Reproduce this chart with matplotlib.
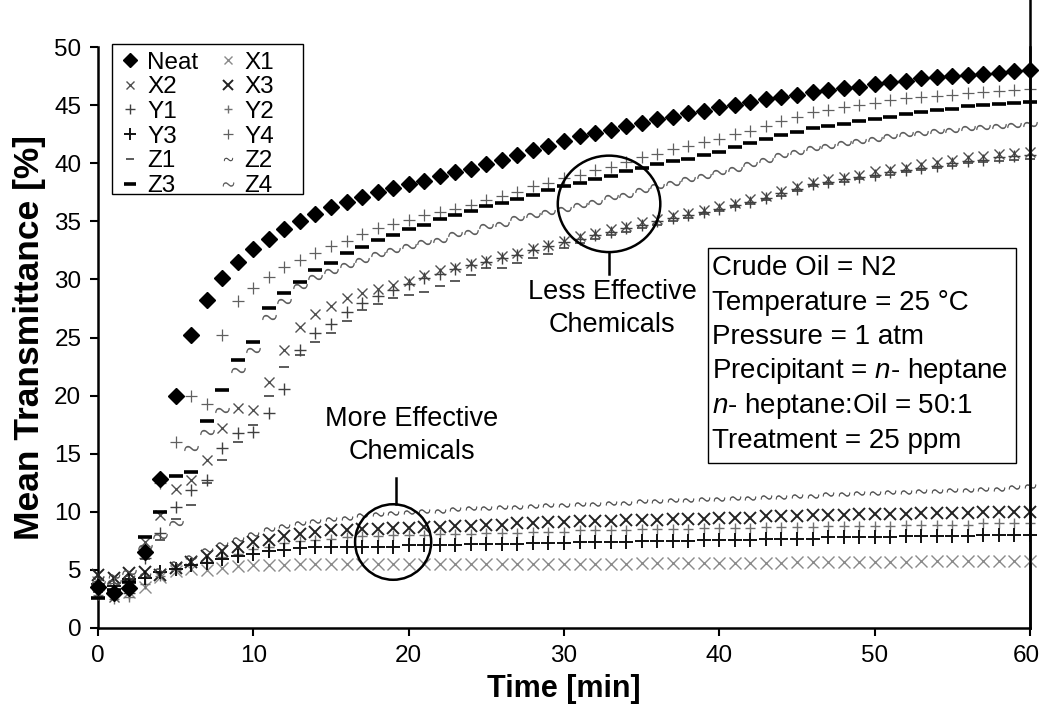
import matplotlib
matplotlib.use("Agg")
import matplotlib.pyplot as plt
from matplotlib.patches import Ellipse, Rectangle
from matplotlib.lines import Line2D
from matplotlib.transforms import ScaledTranslation

plt.rcParams['font.family'] = ['Liberation Sans', 'DejaVu Sans']
plt.rcParams['mathtext.fontset'] = 'custom'
plt.rcParams['mathtext.rm'] = 'Liberation Sans'
plt.rcParams['mathtext.it'] = 'Liberation Sans:italic'

# ---- data: mean transmittance [%] sampled every minute, 0..60 min ----
time_min = list(range(0, 61))

neat = [3.5, 3.0, 3.4, 6.5, 12.8, 20.0, 25.2, 28.2, 30.1, 31.5,
        32.6, 33.5, 34.3, 35.0, 35.6, 36.2, 36.7, 37.1, 37.5, 37.9,
        38.2, 38.5, 38.9, 39.2, 39.5, 39.9, 40.3, 40.7, 41.1, 41.5,
        41.9, 42.3, 42.6, 42.9, 43.2, 43.5, 43.8, 44.0, 44.3, 44.5,
        44.8, 45.0, 45.3, 45.5, 45.7, 45.9, 46.1, 46.3, 46.5, 46.6,
        46.8, 47.0, 47.1, 47.3, 47.4, 47.5, 47.6, 47.7, 47.8, 47.9, 48.0]

x1 = [4.0, 3.4, 3.1, 3.5, 4.4, 4.9, 5.1, 5.0, 5.2, 5.3,
      5.4, 5.4, 5.4, 5.5, 5.5, 5.5, 5.5, 5.5, 5.5, 5.5,
      5.5, 5.5, 5.5, 5.5, 5.5, 5.5, 5.5, 5.5, 5.5, 5.5,
      5.5, 5.5, 5.5, 5.5, 5.5, 5.6, 5.6, 5.6, 5.6, 5.6,
      5.6, 5.6, 5.6, 5.6, 5.6, 5.7, 5.7, 5.7, 5.7, 5.7,
      5.7, 5.7, 5.7, 5.8, 5.8, 5.8, 5.8, 5.8, 5.8, 5.8, 5.8]

x2 = [3.0, 2.7, 3.8, 7.4, 9.7, 12.0, 12.7, 14.5, 17.2, 18.9,
      18.8, 21.2, 23.9, 25.9, 27.0, 27.7, 28.4, 28.8, 29.2, 29.5,
      29.9, 30.4, 30.8, 31.1, 31.4, 31.7, 32.0, 32.3, 32.7, 33.0,
      33.3, 33.7, 34.0, 34.3, 34.6, 34.9, 35.2, 35.5, 35.7, 36.0,
      36.3, 36.6, 36.9, 37.2, 37.6, 38.0, 38.4, 38.6, 38.8, 39.0,
      39.3, 39.5, 39.7, 39.9, 40.1, 40.3, 40.5, 40.6, 40.8, 40.9, 41.0]

x3 = [4.6, 4.3, 4.7, 4.8, 4.6, 5.2, 5.7, 6.2, 6.6, 7.0,
      7.4, 7.6, 7.9, 8.1, 8.3, 8.4, 8.4, 8.5, 8.5, 8.6,
      8.6, 8.7, 8.7, 8.8, 8.8, 8.9, 8.9, 9.0, 9.0, 9.1,
      9.1, 9.2, 9.2, 9.2, 9.3, 9.3, 9.3, 9.4, 9.4, 9.4,
      9.5, 9.5, 9.5, 9.6, 9.6, 9.6, 9.7, 9.7, 9.7, 9.8,
      9.8, 9.8, 9.8, 9.9, 9.9, 9.9, 9.9, 10.0, 10.0, 10.0, 10.0]

y1 = [3.3, 3.1, 3.0, 6.0, 8.2, 10.4, 11.9, 12.7, 15.5, 16.8,
      16.9, 18.5, 20.6, 23.9, 25.4, 26.2, 27.2, 28.0, 28.6, 29.1,
      29.6, 30.1, 30.5, 30.9, 31.2, 31.5, 31.8, 32.1, 32.5, 32.9,
      33.2, 33.5, 33.8, 34.1, 34.4, 34.7, 35.0, 35.3, 35.5, 35.8,
      36.1, 36.4, 36.7, 37.0, 37.4, 37.8, 38.2, 38.4, 38.6, 38.8,
      39.0, 39.2, 39.4, 39.6, 39.8, 40.0, 40.2, 40.3, 40.5, 40.6, 40.7]

y2 = [2.8, 2.5, 2.7, 3.8, 4.5, 5.0, 5.4, 5.7, 6.1, 6.4,
      6.8, 7.0, 7.3, 7.5, 7.6, 7.7, 7.8, 7.9, 7.9, 8.0,
      8.0, 8.0, 8.1, 8.1, 8.1, 8.2, 8.2, 8.2, 8.3, 8.3,
      8.3, 8.4, 8.4, 8.4, 8.4, 8.5, 8.5, 8.5, 8.5, 8.6,
      8.6, 8.6, 8.6, 8.7, 8.7, 8.7, 8.7, 8.8, 8.8, 8.8,
      8.8, 8.8, 8.9, 8.9, 8.9, 8.9, 8.9, 9.0, 9.0, 9.0, 9.0]

y3 = [3.8, 3.6, 4.2, 4.3, 4.8, 5.1, 5.4, 5.6, 5.9, 6.2,
      6.4, 6.6, 6.7, 6.9, 7.0, 7.0, 7.0, 7.0, 7.0, 7.0,
      7.1, 7.1, 7.1, 7.1, 7.2, 7.2, 7.2, 7.2, 7.3, 7.3,
      7.3, 7.4, 7.4, 7.4, 7.4, 7.5, 7.5, 7.5, 7.5, 7.6,
      7.6, 7.6, 7.6, 7.7, 7.7, 7.7, 7.7, 7.8, 7.8, 7.8,
      7.8, 7.8, 7.9, 7.9, 7.9, 7.9, 7.9, 8.0, 8.0, 8.0, 8.0]

y4 = [3.6, 3.9, 3.6, 6.8, 12.5, 16.0, 20.0, 19.3, 25.2, 28.1,
      29.3, 30.2, 31.1, 31.7, 32.3, 32.9, 33.3, 33.9, 34.4, 34.8,
      35.1, 35.5, 35.8, 36.1, 36.4, 36.8, 37.2, 37.5, 38.0, 38.3,
      38.7, 39.0, 39.4, 39.7, 40.1, 40.5, 40.8, 41.2, 41.5, 41.8,
      42.1, 42.5, 42.8, 43.2, 43.6, 44.0, 44.4, 44.6, 44.8, 45.0,
      45.2, 45.4, 45.6, 45.7, 45.8, 45.9, 46.0, 46.1, 46.2, 46.3, 46.4]

z1 = [3.1, 2.9, 3.3, 5.9, 7.6, 9.4, 10.6, 12.5, 14.5, 16.0,
      17.5, 20.0, 22.5, 23.5, 24.6, 25.4, 26.4, 27.4, 27.9, 28.4,
      28.7, 28.9, 29.4, 29.9, 30.4, 31.0, 31.0, 31.4, 31.8, 32.2,
      32.7, 33.1, 33.5, 33.8, 34.1, 34.4, 34.7, 35.0, 35.3, 35.6,
      35.9, 36.2, 36.5, 36.8, 37.2, 37.6, 38.0, 38.2, 38.4, 38.6,
      38.8, 39.0, 39.2, 39.4, 39.6, 39.8, 40.0, 40.1, 40.2, 40.3, 40.4]

z2 = [4.3, 4.5, 4.4, 4.6, 5.0, 5.6, 6.1, 6.7, 7.2, 7.7,
      8.1, 8.5, 8.8, 9.0, 9.2, 9.4, 9.5, 9.7, 9.8, 9.9,
      10.0, 10.1, 10.1, 10.2, 10.3, 10.3, 10.4, 10.4, 10.5, 10.6,
      10.6, 10.7, 10.7, 10.8, 10.8, 10.9, 10.9, 11.0, 11.0, 11.1,
      11.1, 11.2, 11.2, 11.3, 11.3, 11.4, 11.4, 11.5, 11.5, 11.6,
      11.6, 11.7, 11.7, 11.8, 11.8, 11.9, 11.9, 12.0, 12.0, 12.1, 12.2]

z3 = [2.6, 3.3, 4.0, 7.8, 10.0, 13.1, 13.4, 17.8, 20.5, 23.1,
      24.6, 27.5, 28.8, 29.8, 30.8, 31.4, 32.3, 32.8, 33.4, 33.8,
      34.3, 34.7, 35.2, 35.5, 35.9, 36.3, 36.6, 36.9, 37.3, 37.7,
      38.0, 38.3, 38.6, 38.9, 39.3, 39.6, 39.9, 40.2, 40.4, 40.7,
      41.0, 41.4, 41.7, 42.1, 42.4, 42.7, 43.0, 43.2, 43.4, 43.6,
      43.8, 44.0, 44.2, 44.4, 44.6, 44.7, 44.9, 45.0, 45.1, 45.2, 45.3]

z4 = [3.9, 4.0, 4.8, 7.0, 7.9, 9.0, 15.5, 16.9, 18.8, 22.2,
      23.9, 26.8, 28.1, 29.4, 30.2, 30.7, 31.2, 31.7, 32.2, 32.5,
      32.9, 33.2, 33.4, 33.9, 34.1, 34.6, 34.8, 35.3, 35.5, 35.8,
      36.1, 36.4, 36.7, 37.1, 37.3, 37.7, 38.0, 38.3, 38.6, 38.9,
      39.2, 39.5, 39.9, 40.3, 40.7, 41.0, 41.3, 41.5, 41.7, 41.9,
      42.1, 42.3, 42.5, 42.6, 42.8, 42.9, 43.0, 43.1, 43.2, 43.3, 43.4]

series_names = ["Neat", "X1", "X2", "X3", "Y1", "Y2", "Y3", "Y4", "Z1", "Z2", "Z3", "Z4"]
series_values = [neat, x1, x2, x3, y1, y2, y3, y4, z1, z2, z3, z4]

x_ticks = [0, 10, 20, 30, 40, 50, 60]
y_ticks = [0, 5, 10, 15, 20, 25, 30, 35, 40, 45, 50]

conditions = ["Crude Oil = N2",
              "Temperature = 25 \u00b0C",
              "Pressure = 1 atm",
              "Precipitant = $\\it{n}$- heptane",
              "$\\it{n}$- heptane:Oil = 50:1",
              "Treatment = 25 ppm"]

# ---- marker styles ----
styles = {
    "Neat": dict(marker="D", ms=8.5, color="black", zorder=6),
    "X1": dict(marker="x", ms=8, mew=1.0, color="#8a8a8a", zorder=3),
    "X2": dict(marker="x", ms=7.5, mew=1.0, color="#505050", zorder=4),
    "X3": dict(marker="x", ms=9, mew=1.4, color="#222222", zorder=4),
    "Y1": dict(marker="+", ms=9, mew=1.0, color="#404040", zorder=4),
    "Y2": dict(marker="+", ms=7, mew=1.0, color="#707070", zorder=4),
    "Y3": dict(marker="+", ms=10, mew=1.4, color="#111111", zorder=4),
    "Y4": dict(marker="+", ms=9, mew=0.9, color="#606060", zorder=4),
    "Z1": dict(marker="_", ms=7, mew=1.2, color="#404040", zorder=4),
    "Z2": dict(marker="$\\sim$", ms=8, mew=0.3, color="#404040", zorder=4),
    "Z3": dict(marker="_", ms=10, mew=2.6, color="black", zorder=5),
    "Z4": dict(marker="$\\sim$", ms=10, mew=0.3, color="#505050", zorder=4),
}

W, H = 1040, 713
fig = plt.figure(figsize=(W / 100, H / 100), dpi=100)
ax_l, ax_r, ax_t, ax_b = 98, 1030, 47, 628
ax = fig.add_axes([ax_l / W, 1 - ax_b / H, (ax_r - ax_l) / W, (ax_b - ax_t) / H])

handles = {}
for name, vals in zip(series_names, series_values):
    ln, = ax.plot(time_min, vals, linestyle="none", clip_on=False, label=name, **styles[name])
    handles[name] = ln

ax.set_xlim(0, 60)
ax.set_ylim(0, 50)
ax.set_xticks(x_ticks)
ax.set_yticks(y_ticks)
ax.tick_params(axis="both", direction="out", length=6, width=1.5, labelsize=17.5, pad=6)

# keep the last x label inside the figure
fig.canvas.draw()
last = ax.get_xticklabels()[-1]
last.set_transform(last.get_transform() + ScaledTranslation(-4 / 100, 0, fig.dpi_scale_trans))

ax.spines["top"].set_visible(False)
for s in ("left", "bottom", "right"):
    ax.spines[s].set_linewidth(1.8)
# right border runs to the top edge of the figure
fig.add_artist(Line2D([ax_r / W, ax_r / W], [1 - ax_b / H, 1.0], color="black", lw=1.8))

ax.set_xlabel("Time [min]", fontsize=22, fontweight="bold", labelpad=5)
ax.set_ylabel("Mean Transmittance [%]", fontsize=25.5, fontweight="bold", labelpad=6)

# legend: two columns, filled row by row, inside a fixed frame
fig.add_artist(Rectangle((112 / W, 1 - 194 / H), 191 / W, 150 / H, transform=fig.transFigure,
                         facecolor="white", edgecolor="black", lw=1.0, zorder=9))
order = ["Neat", "X2", "Y1", "Y3", "Z1", "Z3", "X1", "X3", "Y2", "Y4", "Z2", "Z4"]
leg = fig.legend([handles[n] for n in order], order, ncol=2, loc="upper left",
                 bbox_to_anchor=(106 / W, 1 - 37 / H), bbox_transform=fig.transFigure,
                 fontsize=17.5, frameon=False, labelspacing=0.11,
                 handlelength=0.8, handletextpad=0.3, columnspacing=0.8,
                 borderpad=0.1, markerscale=0.8)
leg.set_zorder(10)

# condition box
fig.add_artist(Rectangle((708 / W, 1 - 463 / H), 308 / W, 215 / H, transform=fig.transFigure,
                         facecolor="white", edgecolor="black", lw=1.0, zorder=8))
for i, line in enumerate(conditions):
    fig.text(712 / W, 1 - (268 + i * 34.5) / H, line, fontsize=20, va="center",
             ha="left", zorder=9)

# circled groups with labels
ax.add_patch(Ellipse((32.9, 36.5), 6.6, 8.3, fill=False, edgecolor="black", lw=1.8, zorder=7, clip_on=False))
ax.plot([32.9, 32.9], [32.35, 30.5], color="black", lw=1.8, zorder=7)
ax.text(33.1, 27.5, "Less Effective\nChemicals", ha="center", va="center", fontsize=19.5,
        linespacing=1.35, zorder=9)

ax.add_patch(Ellipse((19.0, 7.4), 4.9, 6.5, fill=False, edgecolor="black", lw=1.8, zorder=7, clip_on=False))
ax.plot([19.2, 19.2], [10.65, 12.9], color="black", lw=1.8, zorder=7)
ax.text(20.2, 16.6, "More Effective\nChemicals", ha="center", va="center", fontsize=19.5,
        linespacing=1.35, zorder=9)

fig.savefig("out.png", dpi=100)
